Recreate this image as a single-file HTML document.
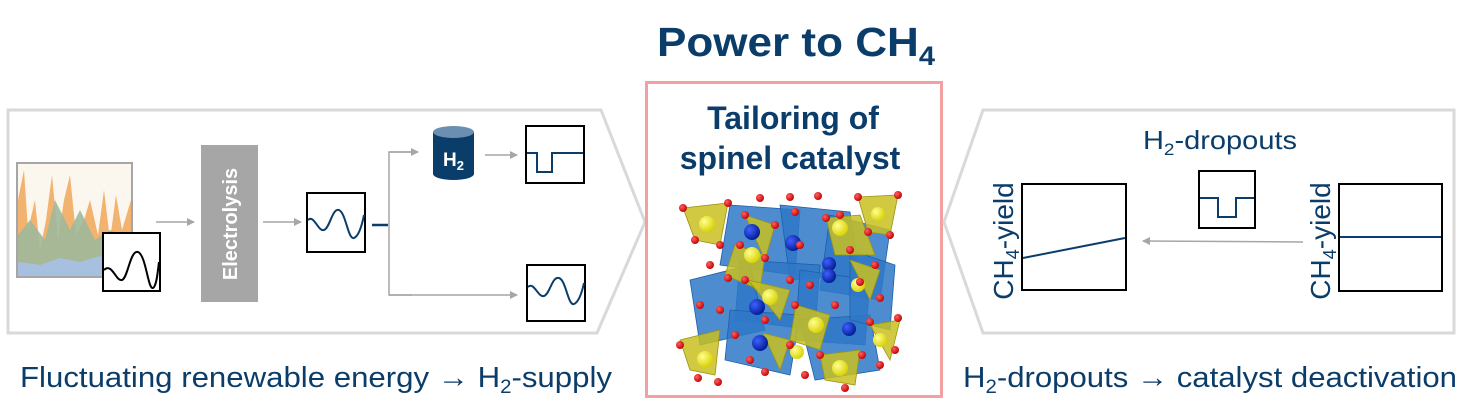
<!DOCTYPE html>
<html><head><meta charset="utf-8"><style>
body{margin:0;background:#fff;}
svg{display:block}
text{font-family:"Liberation Sans",sans-serif;}
</style></head><body>
<svg width="1477" height="412" viewBox="0 0 1477 412" xmlns="http://www.w3.org/2000/svg">
<defs>
<marker id="ar" markerWidth="8" markerHeight="8" refX="7" refY="4" orient="auto" markerUnits="userSpaceOnUse"><path d="M0,0 L8,4 L0,8z" fill="#a6a6a6"/></marker>
<radialGradient id="yb" cx="0.35" cy="0.35" r="0.7"><stop offset="0" stop-color="#ffff90"/><stop offset="1" stop-color="#d8d000"/></radialGradient>
<radialGradient id="rb" cx="0.35" cy="0.35" r="0.7"><stop offset="0" stop-color="#ff6060"/><stop offset="1" stop-color="#c00000"/></radialGradient>
<radialGradient id="bb" cx="0.35" cy="0.35" r="0.7"><stop offset="0" stop-color="#4060ff"/><stop offset="1" stop-color="#001a90"/></radialGradient>
</defs>
<text x="657" y="56" font-size="41" font-weight="bold" fill="#0b3d6b" textLength="278" lengthAdjust="spacingAndGlyphs">Power to CH<tspan font-size="27" dy="9">4</tspan></text>

<!-- left panel -->
<polygon points="8,110 601,110 645,222 597,333 8,333" fill="none" stroke="#d9d9d9" stroke-width="3"/>
<rect x="17" y="163" width="115" height="114" fill="#fbf7ef" stroke="#a6a6a6" stroke-width="2"/>
<polygon points="18,276 18,200 24,170 28,230 35,200 40,250 46,220 52,175 58,240 64,200 70,175 76,235 84,220 90,200 98,235 104,190 110,240 116,195 122,230 131,200 131,276" fill="#f0a050" opacity="0.8"/>
<polygon points="18,276 18,235 30,220 45,240 55,200 70,230 80,210 95,240 110,230 131,240 131,276" fill="#9fb89a" opacity="0.9"/>
<polygon points="18,276 18,262 40,265 60,258 80,262 100,256 131,260 131,276" fill="#a8c0e0"/>
<rect x="103" y="233" width="57" height="58" fill="#fff" stroke="#000" stroke-width="2"/>
<path d="M104,270 C112,262 116,282 122,280 C128,278 130,250 138,252 C146,255 148,290 153,288 C157,286 158,268 159,262" fill="none" stroke="#000" stroke-width="2"/>
<line x1="156" y1="222" x2="194" y2="222" stroke="#a6a6a6" stroke-width="1.5" marker-end="url(#ar)"/>
<rect x="201" y="145" width="57" height="157" fill="#a6a6a6"/>
<text transform="translate(237,224) rotate(-90)" text-anchor="middle" font-size="20" font-weight="bold" fill="#fff">Electrolysis</text>
<line x1="263" y1="222" x2="301" y2="222" stroke="#a6a6a6" stroke-width="1.5" marker-end="url(#ar)"/>
<rect x="307" y="193" width="58" height="59" fill="#fff" stroke="#000" stroke-width="2"/>
<path d="M308,220 C314,214 318,232 324,230 C330,228 332,208 339,210 C346,213 348,240 354,238 C359,236 362,225 364,215" fill="none" stroke="#0b3d6b" stroke-width="2"/>
<line x1="372" y1="225" x2="388" y2="225" stroke="#0b3d6b" stroke-width="2.5"/>
<polyline points="412,152 389,152 389,295 412,295" fill="none" stroke="#a6a6a6" stroke-width="1.5"/>
<line x1="389" y1="152" x2="418" y2="152" stroke="#a6a6a6" stroke-width="1.5" marker-end="url(#ar)"/>
<line x1="389" y1="295" x2="517" y2="295" stroke="#a6a6a6" stroke-width="1.5" marker-end="url(#ar)"/>
<path d="M433,132 L433,174 A20.5,6 0 0 0 474,174 L474,132z" fill="#0b3d6b"/>
<ellipse cx="453.5" cy="132" rx="20.5" ry="6" fill="#6a8fb0"/>
<text x="443" y="166" font-size="19" font-weight="bold" fill="#fff">H<tspan font-size="13" dy="4">2</tspan></text>
<line x1="485" y1="155" x2="517" y2="155" stroke="#a6a6a6" stroke-width="1.5" marker-end="url(#ar)"/>
<rect x="526" y="126" width="58" height="57" fill="#fff" stroke="#000" stroke-width="2"/>
<polyline points="527,153 537,153 537,172 552,172 552,153 583,153" fill="none" stroke="#0b3d6b" stroke-width="2"/>
<rect x="527" y="265" width="58" height="56" fill="#fff" stroke="#000" stroke-width="2"/>
<path d="M528,287 C534,281 538,298 544,296 C550,294 552,276 559,278 C566,280 568,306 574,304 C579,302 582,292 584,283" fill="none" stroke="#0b3d6b" stroke-width="2"/>
<text x="20" y="387" font-size="29" fill="#0b3d6b" textLength="592" lengthAdjust="spacingAndGlyphs">Fluctuating renewable energy → H<tspan font-size="19" dy="6">2</tspan><tspan dy="-6">-supply</tspan></text>

<!-- center -->
<rect x="646.5" y="82.5" width="295" height="314" fill="#fff" stroke="#f4a0a0" stroke-width="3"/>
<text x="793" y="129" text-anchor="middle" font-size="32" font-weight="bold" fill="#0b3d6b">Tailoring of</text>
<text x="790" y="169" text-anchor="middle" font-size="32" font-weight="bold" fill="#0b3d6b">spinel catalyst</text>
<g>
<g fill="#2f78c8" fill-opacity="0.85" stroke="#1c5fa8" stroke-width="0.8">
<polygon points="730,205 800,210 795,275 720,265"/>
<polygon points="780,205 850,212 860,275 790,280"/>
<polygon points="830,215 890,230 880,300 820,290"/>
<polygon points="740,260 820,265 815,330 735,320"/>
<polygon points="800,270 870,280 865,345 795,340"/>
<polygon points="690,280 750,265 765,330 700,345"/>
<polygon points="730,310 800,315 790,375 725,360"/>
<polygon points="800,320 870,315 880,370 815,380"/>
<polygon points="850,250 895,265 890,330 850,320"/>
</g>
<g fill="#c8c020" fill-opacity="0.85" stroke="#9a9410" stroke-width="0.8">
<polygon points="683,208 728,203 720,245 695,240"/>
<polygon points="745,215 775,225 765,260"/>
<polygon points="826,218 860,215 875,255 835,255"/>
<polygon points="858,197 898,195 890,235 868,232"/>
<polygon points="735,245 765,255 760,290 725,275"/>
<polygon points="748,280 790,290 780,320"/>
<polygon points="850,260 880,270 870,300"/>
<polygon points="796,305 830,315 820,350 790,340"/>
<polygon points="680,340 720,330 715,375 690,370"/>
<polygon points="870,325 900,320 890,360"/>
<polygon points="820,355 860,350 855,385 825,380"/>
<polygon points="763,333 790,340 780,370"/>
</g>
<g fill="url(#bb)">
<circle cx="752" cy="232" r="8"/><circle cx="793" cy="243" r="8"/><circle cx="829" cy="264" r="7"/>
<circle cx="757" cy="307" r="8"/><circle cx="760" cy="343" r="8"/><circle cx="849" cy="329" r="7"/><circle cx="829" cy="276" r="7"/>
</g>
<g fill="url(#yb)">
<circle cx="707" cy="224" r="8"/><circle cx="752" cy="255" r="8"/><circle cx="840" cy="228" r="8"/><circle cx="878" cy="214" r="7"/>
<circle cx="770" cy="297" r="8"/><circle cx="858" cy="285" r="7"/><circle cx="816" cy="325" r="8"/><circle cx="705" cy="359" r="8"/>
<circle cx="880" cy="340" r="7"/><circle cx="840" cy="368" r="8"/><circle cx="797" cy="352" r="7"/>
</g>
<g fill="url(#rb)">
<circle cx="683" cy="208" r="4"/><circle cx="728" cy="203" r="4"/><circle cx="695" cy="240" r="4"/><circle cx="720" cy="245" r="4"/>
<circle cx="745" cy="215" r="4"/><circle cx="775" cy="225" r="4"/><circle cx="760" cy="198" r="4"/><circle cx="790" cy="197" r="4"/>
<circle cx="795" cy="212" r="4"/><circle cx="818" cy="196" r="4"/><circle cx="840" cy="215" r="4"/><circle cx="826" cy="218" r="4"/>
<circle cx="858" cy="197" r="4"/><circle cx="898" cy="195" r="4"/><circle cx="890" cy="235" r="4"/><circle cx="868" cy="232" r="4"/>
<circle cx="740" cy="245" r="4"/><circle cx="765" cy="258" r="4"/><circle cx="800" cy="245" r="4"/><circle cx="850" cy="250" r="4"/>
<circle cx="875" cy="265" r="4"/><circle cx="710" cy="265" r="4"/><circle cx="728" cy="278" r="4"/><circle cx="790" cy="280" r="4"/>
<circle cx="745" cy="280" r="4"/><circle cx="810" cy="285" r="4"/><circle cx="860" cy="282" r="4"/><circle cx="880" cy="298" r="4"/>
<circle cx="700" cy="305" r="4"/><circle cx="720" cy="310" r="4"/><circle cx="765" cy="320" r="4"/><circle cx="795" cy="305" r="4"/>
<circle cx="835" cy="305" r="4"/><circle cx="870" cy="322" r="4"/><circle cx="898" cy="318" r="4"/><circle cx="680" cy="345" r="4"/>
<circle cx="735" cy="335" r="4"/><circle cx="790" cy="345" r="4"/><circle cx="820" cy="355" r="4"/><circle cx="862" cy="355" r="4"/>
<circle cx="698" cy="378" r="4"/><circle cx="718" cy="382" r="4"/><circle cx="765" cy="372" r="4"/><circle cx="805" cy="375" r="4"/>
<circle cx="845" cy="388" r="4"/><circle cx="880" cy="365" r="4"/><circle cx="895" cy="350" r="4"/><circle cx="750" cy="360" r="4"/>
</g>
</g>

<!-- right panel -->
<polygon points="983,110 1454,110 1454,333 983,333 944,222" fill="none" stroke="#d9d9d9" stroke-width="3"/>
<text x="1143" y="149" font-size="26" fill="#0b3d6b" textLength="154" lengthAdjust="spacingAndGlyphs">H<tspan font-size="17" dy="6">2</tspan><tspan dy="-6">-dropouts</tspan></text>
<rect x="1199" y="171" width="56" height="57" fill="#fff" stroke="#000" stroke-width="2"/>
<polyline points="1200,198 1218,198 1218,217 1236,217 1236,198 1254,198" fill="none" stroke="#0b3d6b" stroke-width="2"/>
<rect x="1022" y="184" width="104" height="106" fill="#fff" stroke="#000" stroke-width="2"/>
<line x1="1023" y1="258" x2="1125" y2="238" stroke="#0b3d6b" stroke-width="2"/>
<rect x="1339" y="184" width="103" height="107" fill="#fff" stroke="#000" stroke-width="2"/>
<line x1="1340" y1="237" x2="1441" y2="237" stroke="#0b3d6b" stroke-width="2"/>
<line x1="1303" y1="242" x2="1143" y2="241" stroke="#a6a6a6" stroke-width="1.5" marker-end="url(#ar)"/>
<text transform="translate(1013,241) rotate(-90)" text-anchor="middle" font-size="28" fill="#0b3d6b">CH<tspan font-size="18" dy="6">4</tspan><tspan dy="-6">-yield</tspan></text>
<text transform="translate(1330,241) rotate(-90)" text-anchor="middle" font-size="28" fill="#0b3d6b">CH<tspan font-size="18" dy="6">4</tspan><tspan dy="-6">-yield</tspan></text>
<text x="963" y="387" font-size="29" fill="#0b3d6b" textLength="494" lengthAdjust="spacingAndGlyphs">H<tspan font-size="19" dy="6">2</tspan><tspan dy="-6">-dropouts → catalyst deactivation</tspan></text>
</svg>
</body></html>
